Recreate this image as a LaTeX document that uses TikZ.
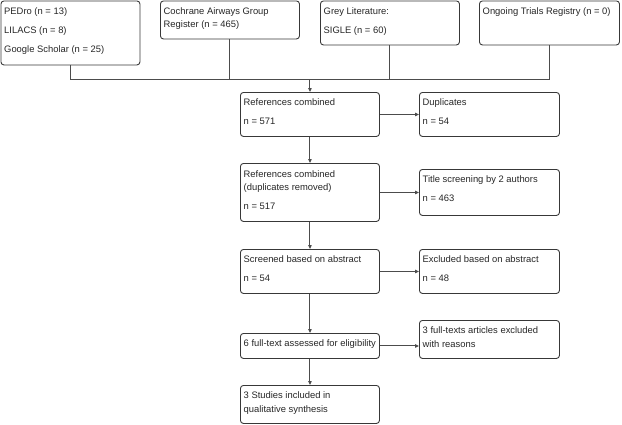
\documentclass[tikz,border=0pt]{standalone}
\usepackage{fontspec}
\setmainfont{Liberation Sans}
\usetikzlibrary{arrows.meta,calc}
\begin{document}
\begin{tikzpicture}[x=1pt,y=-1pt,
  box/.style={draw=black!78, line width=0.9pt, rounded corners=3pt, anchor=north west, inner sep=0pt},
  txt/.style={anchor=north west, inner sep=0pt, align=left, text=black!85,
    font=\fontsize{9.4}{13.5}\selectfont},
  conn/.style={draw=black!70, line width=1pt},
  arr/.style={conn, -{Triangle[length=4pt,width=3.5pt]}}]
\useasboundingbox (0,0) rectangle (622,424);
% boxes
\node[box, minimum width=139pt, minimum height=64pt] (b1) at (0.5,0.5) {};
\node[box, minimum width=139pt, minimum height=38pt] (b2) at (160,0.5) {};
\node[box, minimum width=139pt, minimum height=44pt] (b3) at (320,0.5) {};
\node[box, minimum width=140pt, minimum height=44pt] (b4) at (479,0.5) {};
\node[box, minimum width=139pt, minimum height=44pt] (r1) at (240,92) {};
\node[box, minimum width=140pt, minimum height=44pt] (d1) at (419,92) {};
\node[box, minimum width=139pt, minimum height=58pt] (r2) at (240,163) {};
\node[box, minimum width=140pt, minimum height=46pt] (d2) at (419,169) {};
\node[box, minimum width=139pt, minimum height=44pt] (r3) at (240,249) {};
\node[box, minimum width=140pt, minimum height=44pt] (d3) at (419,249) {};
\node[box, minimum width=139pt, minimum height=25pt] (r4) at (240,333) {};
\node[box, minimum width=140pt, minimum height=38pt] (d4) at (419,320) {};
\node[box, minimum width=139pt, minimum height=38pt] (r5) at (240,385) {};
% texts
\node[txt] (t1) at ($(b1.north west)+(3.5,6.7)$) {PEDro (n = 13)\\[5.5pt]LILACS (n = 8)\\[5.5pt]Google Scholar (n = 25)};
\node[txt] (t2) at ($(b2.north west)+(3.5,6.7)$) {Cochrane Airways Group\\Register (n = 465)};
\node[txt] (t3) at ($(b3.north west)+(3.5,6.7)$) {Grey Literature:\\[5.5pt]SIGLE (n = 60)};
\node[txt] (t4) at ($(b4.north west)+(3.5,6.7)$) {Ongoing Trials Registry (n = 0)};
\node[txt] (tr1) at ($(r1.north west)+(3.5,6.7)$) {References combined\\[5.5pt]n = 571};
\node[txt] (td1) at ($(d1.north west)+(3.5,6.7)$) {Duplicates\\[5.5pt]n = 54};
\node[txt] (tr2) at ($(r2.north west)+(3.5,7.2)$) {References combined\\(duplicates removed)\\[5pt]n = 517};
\node[txt] (td2) at ($(d2.north west)+(3.5,6.7)$) {Title screening by 2 authors\\[5.5pt]n = 463};
\node[txt] (tr3) at ($(r3.north west)+(3.5,6)$) {Screened based on abstract\\[5.5pt]n = 54};
\node[txt] (td3) at ($(d3.north west)+(3.5,6.2)$) {Excluded based on abstract\\[5.5pt]n = 48};
\node[txt] (tr4) at ($(r4.north west)+(3.5,6.7)$) {6 full-text assessed for eligibility};
\node[txt] (td4) at ($(d4.north west)+(3.5,6.7)$) {3 full-texts articles excluded\\with reasons};
\node[txt] (tr5) at ($(r5.north west)+(3.5,6.7)$) {3 Studies included in\\qualitative synthesis};
% collector
\coordinate (j1) at (b1.south |- 0,79);
\coordinate (j4) at (b4.south |- 0,79);
\coordinate (jm) at (r1.north |- 0,79);
\draw[conn] (b1.south) -- (j1) -- (j4) -- (b4.south);
\draw[conn] (b2.south) -- (b2.south |- j1);
\draw[conn] (b3.south) -- (b3.south |- j1);
\draw[arr] (jm) -- (r1.north);
% vertical chain
\draw[arr] (r1.south) -- (r2.north);
\draw[arr] (r2.south) -- (r3.north);
\draw[arr] (r3.south) -- (r4.north);
\draw[arr] (r4.south) -- (r5.north);
% side arrows
\draw[arr] (r1.east) -- (r1.east -| d1.west);
\draw[arr] (r2.east |- d2.west) -- (d2.west);
\draw[arr] (r3.east) -- (r3.east -| d3.west);
\draw[arr] (r4.east) -- (r4.east -| d4.west);
\end{tikzpicture}
\end{document}
